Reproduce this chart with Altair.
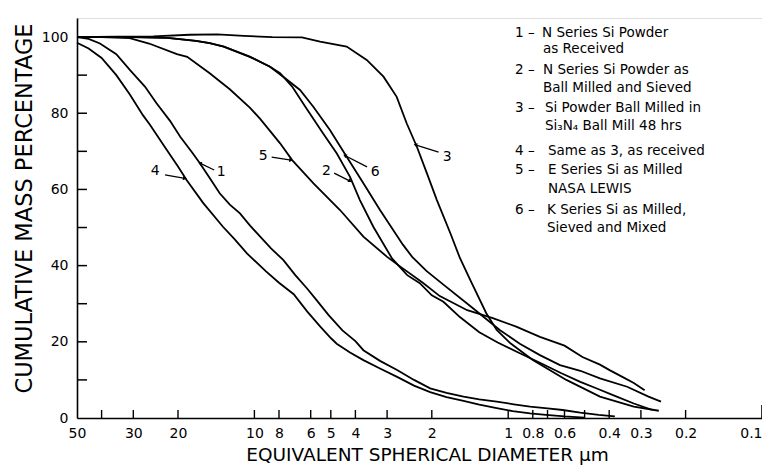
import altair as alt
import pandas as pd

# ---------------- data (x: equivalent spherical diameter in µm, y: cumulative mass %) ----
c1_x = [50, 45, 40.6, 35, 30.9, 27, 24.3, 21.5, 19.6, 17.5, 16.4, 15.0, 13.7, 12.5, 11.4, 10.4, 9.49, 8.6, 7.7, 6.9,
        6.2, 5.7, 5.1, 4.5, 4.0, 3.72, 3.2, 2.74, 2.35, 2.03, 1.75, 1.5, 1.3, 1.11, 0.95, 0.82, 0.7, 0.61, 0.52, 0.44, 0.38]
c1_y = [100, 99.5, 98.3, 95.5, 91.3, 87, 82.6, 78, 73.8, 69.5, 66.9, 63, 59, 56, 53.7, 50.5, 47.6, 44.5, 41.5, 37.5,
        34, 31, 27, 23, 20.2, 17.8, 15, 12.6, 10, 7.8, 6.6, 5.6, 4.9, 4.3, 3.6, 3.0, 2.5, 2.1, 1.4, 0.8, 0.4]

c2_x = [50, 30, 22, 17, 15, 13.2, 10.4, 8.68, 7.92, 7.1, 6.3, 5.36, 4.74, 4.2, 3.84, 3.4, 2.87, 2.5, 2.23, 2.0, 1.8,
        1.55, 1.3, 1.1, 0.9, 0.75, 0.62, 0.52, 0.45, 0.38, 0.32, 0.27]
c2_y = [100, 100, 99.8, 99, 98.4, 97.5, 94.8, 92.2, 90.5, 87, 81.7, 74.7, 69.5, 63.3, 57.2, 50.2, 41.9, 37.5, 35.4, 32.2,
        30.5, 26.5, 22.5, 19.8, 17, 14.5, 11.8, 9.5, 7.8, 5.8, 3.8, 2.1]

c3_x = [50, 35, 25, 18, 14, 11, 8.5, 6.5, 5.51, 4.33, 3.61, 3.1, 2.75, 2.51, 2.29, 2.09, 1.91, 1.69, 1.55, 1.41,
        1.22, 1.11, 0.98, 0.80, 0.59, 0.435, 0.32, 0.255]
c3_y = [100, 100.1, 100.2, 100.6, 100.7, 100.3, 100, 99.9, 98.8, 97.5, 94, 89.6, 84.3, 77.3, 71.2, 64.2, 57.2, 48.5,
        42, 36.2, 27.5, 23.1, 19.6, 15.2, 10, 5.6, 3, 1.9]

c4_x = [50, 45, 40, 35, 31, 27.5, 25.8, 22.2, 20, 18.5, 15.9, 13.3, 12, 10.7, 9.0, 8, 7.0, 6.2, 5.5, 5.0, 4.74, 4.2,
        3.72, 3.2, 2.74, 2.35, 2.03, 1.75, 1.5, 1.3, 1.11, 0.96, 0.82, 0.71, 0.6, 0.5]
c4_y = [98.5, 97, 94.5, 90, 85, 79.5, 77, 70.5, 66, 62.5, 56.4, 50.2, 47, 43.2, 38.5, 35.5, 32.5, 28, 24, 21, 19.5, 17.2,
        15.2, 13, 10.8, 8.5, 6.8, 5.5, 4.5, 3.5, 2.6, 1.8, 1.2, 0.8, 0.4, 0.1]

c5_x = [50, 40, 31, 26, 20.2, 18.4, 15.0, 12.5, 10.4, 9.49, 7.92, 7.1, 5.85, 4.6, 3.72, 3.0, 2.67, 2.17, 1.86, 1.45,
        1.15, 0.93, 0.75, 0.6, 0.51, 0.435, 0.397, 0.355, 0.32, 0.29]
c5_y = [100, 100, 99.7, 98.3, 95.5, 94.8, 90.5, 86.3, 81.4, 78.5, 72.1, 67.7, 61.6, 54.6, 47.6, 42.3, 39.8, 35.5, 32,
        28.3, 26.2, 24, 21.3, 19, 16, 14, 12.5, 10.8, 9.2, 7.3]

c6_x = [50, 30, 22, 17, 15, 13.2, 10.4, 8.68, 7.5, 6.61, 5.86, 5.04, 4.33, 3.72, 3.2, 2.6, 2.39, 2.1, 1.8, 1.4, 1.08,
        0.9, 0.75, 0.625, 0.52, 0.435, 0.34, 0.28, 0.25]
c6_y = [100, 100, 99.8, 99, 98.4, 97.5, 94.8, 92.2, 89, 86.1, 81.7, 75.6, 68.6, 61.6, 54.6, 45.5, 42.3, 38.6, 35.0, 29.2,
        23.1, 19.5, 16.5, 13.9, 12.4, 10.4, 8.2, 5.6, 4.3]

curves = {"1": (c1_x, c1_y), "2": (c2_x, c2_y), "3": (c3_x, c3_y),
          "4": (c4_x, c4_y), "5": (c5_x, c5_y), "6": (c6_x, c6_y)}

# curve-number callouts (label position, arrow tail, arrow tip)
ann_text = ["1", "2", "3", "4", "5", "6"]
ann_x = [13.5, 5.2, 1.74, 24.6, 9.24, 3.34]
ann_y = [64.6, 64.8, 68.5, 64.8, 68.8, 64.6]
arr_x0 = [14.4, 4.85, 1.88, 22.5, 8.55, 3.6]
arr_y0 = [65.1, 64.3, 69.8, 63.8, 68.5, 65.9]
arr_x1 = [16.4, 4.2, 2.32, 18.8, 7.17, 4.4]
arr_y1 = [66.9, 62.2, 71.7, 62.9, 67.7, 68.9]
arr_angle = [206, 27, 197, 9, 9, 208]

# axis ticks / labels
x_label_values = [50, 30, 20, 10, 8, 6, 5, 4, 3, 2, 1, 0.8, 0.6, 0.4, 0.3, 0.2, 0.1]
x_label_text = ["50", "30", "20", "10", "8", "6", "5", "4", "3", "2", "1", "0.8", "0.6", "0.4", "0.3", "0.2", "0.1"]
x_tick_values = [40, 30, 20, 10, 8, 6, 5, 4, 3, 2, 1, 0.8, 0.7, 0.6, 0.5, 0.4, 0.3, 0.2]
x_end_tick = [0.1]
y_tick_values = [10, 20, 30, 40, 50, 60, 70, 80, 90, 100]
y_label_values = [0, 10, 20, 30, 40, 50, 60, 70, 80, 90, 100]

# key text
key_nums = ["1 –", "2 –", "3 –", "4 –", "5 –", "6 –"]
key_num_y = [15, 52, 90, 133, 152, 192]
key_lines = ["N Series Si Powder", "as Received",
             "N Series Si Powder as", "Ball Milled and Sieved",
             "Si Powder Ball Milled in", "Si₃N₄ Ball Mill 48 hrs",
             "Same as 3, as received",
             "E Series Si as Milled", "NASA LEWIS",
             "K Series Si as Milled,", "Sieved and Mixed"]
key_line_x = [465, 466, 466, 466, 468, 468, 471, 471, 471, 470, 470]
key_line_y = [15, 31, 52, 70, 90, 108, 133, 152, 171, 192, 210]

FONT = "DejaVu Sans"
W, H = 685, 400

rows = []
for name, (xs, ys) in curves.items():
    for i, (xv, yv) in enumerate(zip(xs, ys)):
        rows.append({"curve": name, "i": i, "d": xv, "p": yv})
df = pd.DataFrame(rows)

xscale = alt.Scale(type="log", domain=[0.1, 50], reverse=True, nice=False)
yscale = alt.Scale(domain=[0, 105], nice=False)

label_expr = ("[" + ",".join(f"'{t}'" for t in x_label_text) + "][indexof(["
              + ",".join(str(v) for v in x_label_values) + "], datum.value)]")

x_axis = alt.Axis(values=x_label_values, labelExpr=label_expr, ticks=False, grid=False,
                  domainColor="black", domainWidth=1.6, labelFont=FONT, labelFontSize=14,
                  labelColor="black", labelPadding=8, labelFlush=False, labelOverlap=False,
                  labelAlign={"condition": {"test": "datum.value <= 0.1", "value": "right"}, "value": "center"},
                  title="EQUIVALENT SPHERICAL DIAMETER μm", titleFont=FONT, titleFontSize=18.5,
                  titleFontWeight="normal", titleColor="black", titleX=350, titleY=36,
                  titleBaseline="middle", titleAlign="center")
y_axis = alt.Axis(values=y_label_values, ticks=False, grid=False, domainColor="black",
                  domainWidth=1.6, labelFont=FONT, labelFontSize=14, labelColor="black",
                  labelPadding=9, labelFlush=False, labelOverlap=False,
                  title="CUMULATIVE MASS PERCENTAGE", titleFont=FONT, titleFontSize=22.5,
                  titleFontWeight="normal", titleColor="black", titleAngle=270,
                  titleX=-53, titleY=190, titleBaseline="middle", titleAlign="center")

lines = alt.Chart(df).mark_line(color="black", strokeWidth=1.8).encode(
    x=alt.X("d:Q", scale=xscale, axis=x_axis),
    y=alt.Y("p:Q", scale=yscale, axis=y_axis),
    detail="curve:N",
    order="i:Q",
)

ytick_df = pd.DataFrame({"v": y_tick_values})
yticks = alt.Chart(ytick_df).mark_rule(color="black", strokeWidth=1.5).encode(
    y=alt.Y("v:Q", scale=yscale), x=alt.value(0), x2=alt.value(10))

xtick_df = pd.DataFrame({"v": x_tick_values})
xticks = alt.Chart(xtick_df).mark_rule(color="black", strokeWidth=1.4).encode(
    x=alt.X("v:Q", scale=xscale), y=alt.value(H), y2=alt.value(H - 8))
xend = alt.Chart(pd.DataFrame({"v": x_end_tick})).mark_rule(color="black", strokeWidth=1.6).encode(
    x=alt.X("v:Q", scale=xscale), y=alt.value(H), y2=alt.value(H - 13))

ann_df = pd.DataFrame({"t": ann_text, "x": ann_x, "y": ann_y, "x0": arr_x0, "y0": arr_y0,
                       "x1": arr_x1, "y1": arr_y1, "a": arr_angle})
ann_txt = alt.Chart(ann_df).mark_text(font=FONT, fontSize=14, color="black").encode(
    x=alt.X("x:Q", scale=xscale), y=alt.Y("y:Q", scale=yscale), text="t:N")
ann_arrow = alt.Chart(ann_df).mark_rule(color="black", strokeWidth=1.3).encode(
    x=alt.X("x0:Q", scale=xscale), y=alt.Y("y0:Q", scale=yscale), x2="x1:Q", y2="y1:Q")
ann_head = alt.Chart(ann_df).mark_point(shape="triangle-right", filled=True, color="black",
                                        size=18, opacity=1).encode(
    x=alt.X("x1:Q", scale=xscale), y=alt.Y("y1:Q", scale=yscale), angle=alt.Angle("a:Q", scale=None))

knum_df = pd.DataFrame({"t": key_nums, "y": key_num_y})
knum = alt.Chart(knum_df).mark_text(font=FONT, fontSize=13.5, color="black", align="left",
                                    baseline="middle").encode(
    x=alt.value(438), y=alt.Y("y:Q", scale=None), text="t:N")
kline_df = pd.DataFrame({"t": key_lines, "x": key_line_x, "y": key_line_y})
kline = alt.Chart(kline_df).mark_text(font=FONT, fontSize=13.5, color="black", align="left",
                                      baseline="middle").encode(
    x=alt.X("x:Q", scale=None), y=alt.Y("y:Q", scale=None), text="t:N")

chart = alt.layer(lines, yticks, xticks, xend, ann_arrow, ann_head, ann_txt, knum, kline).properties(
    width=W, height=H,
    autosize=alt.AutoSizeParams(type="none"),
    padding={"left": 69, "top": 10, "right": 0, "bottom": 48},
).configure_view(stroke=None).configure(background="white")

chart.save("out.html", embed_options={"renderer": "svg", "actions": False})
